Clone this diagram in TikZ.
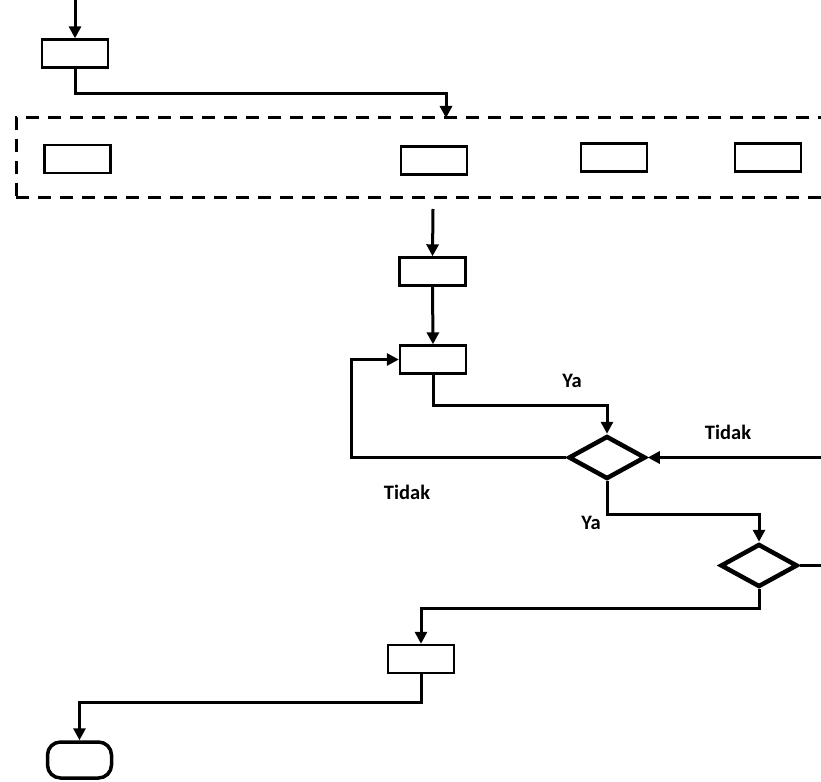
\documentclass[tikz,border=0pt]{standalone}
\usepackage{fontspec}
\setmainfont{Carlito}
\usetikzlibrary{arrows.meta,shapes.geometric}
\begin{document}
\begin{tikzpicture}[x=1pt,y=-1pt,
  box/.style={draw,line width=2.4pt,minimum width=66pt,minimum height=28pt,inner sep=0pt},
  dec/.style={draw,diamond,line width=4.5pt,minimum width=77pt,minimum height=43pt,inner sep=0pt},
  term/.style={draw,rectangle,rounded corners=13pt,line width=3.5pt,minimum width=64pt,minimum height=36pt,inner sep=0pt},
  grpbox/.style={draw,line width=3pt,dash pattern=on 13pt off 9pt,minimum width=830pt,minimum height=79pt,inner sep=0pt},
  conn/.style={line width=3pt},
  arr/.style={conn,-{Triangle[length=12pt,width=12pt]}},
  lbl/.style={font=\fontsize{20.5}{24}\selectfont\bfseries,inner sep=0pt}]
\clip (0,0) rectangle (821,781);
% nodes
\node[box] (b1) at (75,53.5) {};
\node[grpbox] (grp) at (431,157.5) {};
\node[box] (ga) at (77.5,159) {};
\node[box] (gb) at (434,160.5) {};
\node[box] (gc) at (614,157.5) {};
\node[box] (gd) at (768,157.5) {};
\node[box] (bE) at (432.5,271.5) {};
\node[box] (bF) at (433,359.5) {};
\node[dec] (d1) at (607,457.5) {};
\node[dec] (d2) at (759,565.5) {};
\node[box] (bG) at (421,659) {};
\node[term] (t) at (79.5,760) {};
% labels
\node[lbl] (l1) at (572,381) {Ya};
\node[lbl] (l2) at (407,492) {Tidak};
\node[lbl] (l3) at (728,432) {Tidak};
\node[lbl] (l4) at (591,523) {Ya};
% free ends
\coordinate (in) at (75,0);
\coordinate (gtop) at (446,118);
\coordinate (gbot) at (433,209);
\coordinate (rin) at (821,457.5);
\coordinate (rout) at (821,565.5);
% connectors
\draw[arr] (in) -- (b1.north);
\draw[arr] (b1.south) -- ++(0,25) -| (gtop);
\draw[arr] (gbot) -- (bE.north);
\draw[arr] (bE.south) -- (bF.north);
\draw[arr] (bF.south) -- ++(0,31) -| (d1.north);
\draw[arr] (d1.west) -- ++(-215,0) |- (bF.west);
\draw[arr] (rin) -- (d1.east);
\draw[arr] (d1.south) -- ++(0,33) -| (d2.north);
\draw[conn] (d2.east) -- (rout);
\draw[arr] (d2.south) -- ++(0,19) -| (bG.north);
\draw[arr] (bG.south) -- ++(0,28) -| (t.north);
\end{tikzpicture}
\end{document}
